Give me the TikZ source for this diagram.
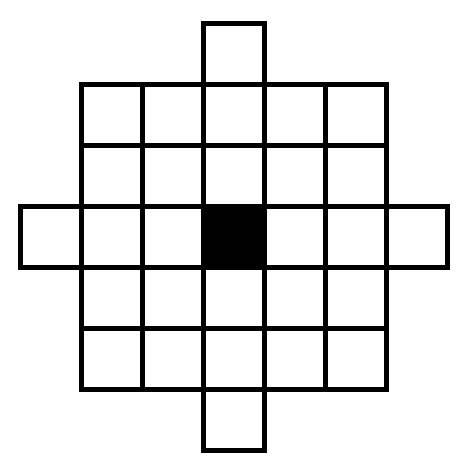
\documentclass[tikz,border=0pt]{standalone}
\usepackage{tikz}

\begin{document}
\begin{tikzpicture}[x={1.22cm},y={1.22cm}]

\tikzstyle{cell}=[draw,line width={2.6pt}]
\tikzstyle{centre}=[cell,fill={black}]

\useasboundingbox (-0.336,-0.349) rectangle (7.320,7.389) ;

% cells: central block

\foreach \i in {1,...,5} {
  \foreach \j in {1,...,5} {
    \draw [cell] (\i,\j) rectangle ++(1,1) ;
  }
}

% cells: arms

\foreach \i/\j in {3/0,3/6,0/3,6/3} {
  \draw [cell] (\i,\j) rectangle ++(1,1) ;
}

% cells: centre

\draw [centre] (3,3) rectangle ++(1,1) ;

\end{tikzpicture}
\end{document}
